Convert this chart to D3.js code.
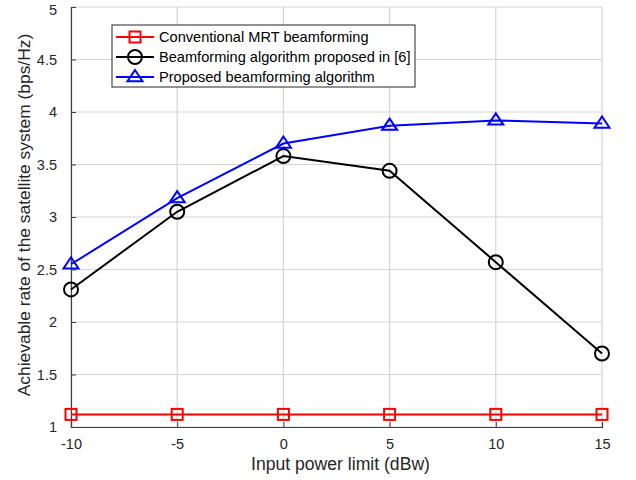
<!DOCTYPE html>
<html><head><meta charset="utf-8">
<script src="https://cdn.jsdelivr.net/npm/d3@7"></script>
<style>body{margin:0;background:#fff}svg{display:block;font-family:"Liberation Sans",Arial,sans-serif}</style>
</head><body><svg id="c" width="636" height="480"></svg>
<script>
const xValues = [-10, -5, 0, 5, 10, 15];
const mrt = [1.12, 1.12, 1.12, 1.12, 1.12, 1.12];
const ref6 = [2.31, 3.05, 3.58, 3.44, 2.57, 1.70];
const proposed = [2.55, 3.18, 3.70, 3.87, 3.92, 3.89];
const xTicks = [-10, -5, 0, 5, 10, 15];
const yTicks = [1, 1.5, 2, 2.5, 3, 3.5, 4, 4.5, 5];
const seriesNames = ["Conventional MRT beamforming", "Beamforming algorithm proposed in [6]", "Proposed beamforming algorithm"];

const svg = d3.select("#c");
const x = d3.scaleLinear().domain([-10, 15]).range([71, 602]);
const y = d3.scaleLinear().domain([1, 5]).range([427, 7]);

// grid
const g = svg.append("g");
g.selectAll(".vx").data(xTicks).join("line")
  .attr("x1", d => x(d)).attr("x2", d => x(d)).attr("y1", y(1)).attr("y2", y(5))
  .attr("stroke", "#d4d4d4").attr("stroke-width", 1.2);
g.selectAll(".hy").data(yTicks).join("line")
  .attr("x1", x(-10)).attr("x2", x(15)).attr("y1", d => y(d)).attr("y2", d => y(d))
  .attr("stroke", "#d4d4d4").attr("stroke-width", 1.2);

// axes
const xAxis = d3.axisBottom(x).tickValues(xTicks).tickSize(-5).tickPadding(12).tickFormat(d => String(d));
const yAxis = d3.axisLeft(y).tickValues(yTicks).tickSize(-5).tickPadding(14).tickFormat(d => String(d));
const ax = svg.append("g").attr("transform", `translate(0,${y(1)})`).call(xAxis);
const ay = svg.append("g").attr("transform", `translate(${x(-10)},0)`).call(yAxis);
[ax, ay].forEach(a => {
  a.select(".domain").attr("stroke", "#404040").attr("stroke-width", 1.2);
  a.selectAll(".tick line").attr("stroke", "#404040");
  a.selectAll("text").attr("font-size", 14.5).attr("fill", "#262626").attr("font-family", "Liberation Sans, Arial, sans-serif");
});
// keep the top label inside the page
ay.selectAll(".tick text").filter(d => d === 5).attr("y", 3);

// titles
svg.append("text").attr("x", x(2.5) + 4).attr("y", 469.5).attr("text-anchor", "middle")
  .attr("font-size", 17.6).attr("fill", "#262626").text("Input power limit (dBw)");
svg.append("text").attr("transform", `translate(30,${y(3) - 2}) rotate(-90)`).attr("text-anchor", "middle")
  .attr("font-size", 17.4).attr("fill", "#262626").text("Achievable rate of the satellite system (bps/Hz)");

const line = d3.line().x((d, i) => x(xValues[i])).y(d => y(d));
const series = [
  {vals: mrt, color: "#ff0000", marker: "square"},
  {vals: ref6, color: "#000000", marker: "circle"},
  {vals: proposed, color: "#0000ff", marker: "triangle"}
];
function drawMarker(sel, type, cx, cy, color) {
  if (type === "square") {
    sel.append("rect").attr("x", cx - 5.5).attr("y", cy - 5.5).attr("width", 11).attr("height", 11)
      .attr("fill", "none").attr("stroke", color).attr("stroke-width", 2);
  } else if (type === "circle") {
    sel.append("circle").attr("cx", cx).attr("cy", cy).attr("r", 7)
      .attr("fill", "none").attr("stroke", color).attr("stroke-width", 2);
  } else {
    const h = 7;
    sel.append("path").attr("d", `M${cx},${cy - h} L${cx + 7.5},${cy + h * 0.6} L${cx - 7.5},${cy + h * 0.6} Z`)
      .attr("fill", "none").attr("stroke", color).attr("stroke-width", 2);
  }
}
series.forEach(s => {
  svg.append("path").datum(s.vals).attr("d", line).attr("fill", "none")
    .attr("stroke", s.color).attr("stroke-width", 2);
  const mg = svg.append("g");
  s.vals.forEach((v, i) => drawMarker(mg, s.marker, x(xValues[i]), y(v), s.color));
});

// legend
const lg = svg.append("g");
lg.append("rect").attr("x", 112).attr("y", 25).attr("width", 303).attr("height", 62)
  .attr("fill", "#fff").attr("stroke", "#262626").attr("stroke-width", 1);
series.forEach((s, i) => {
  const ly = 37 + i * 20;
  lg.append("line").attr("x1", 116).attr("x2", 154).attr("y1", ly).attr("y2", ly)
    .attr("stroke", s.color).attr("stroke-width", 2);
  drawMarker(lg, s.marker, 135, ly, s.color);
  lg.append("text").attr("x", 159).attr("y", ly + 5).attr("font-size", 14.6).attr("fill", "#000")
    .text(seriesNames[i]);
});
</script></body></html>
